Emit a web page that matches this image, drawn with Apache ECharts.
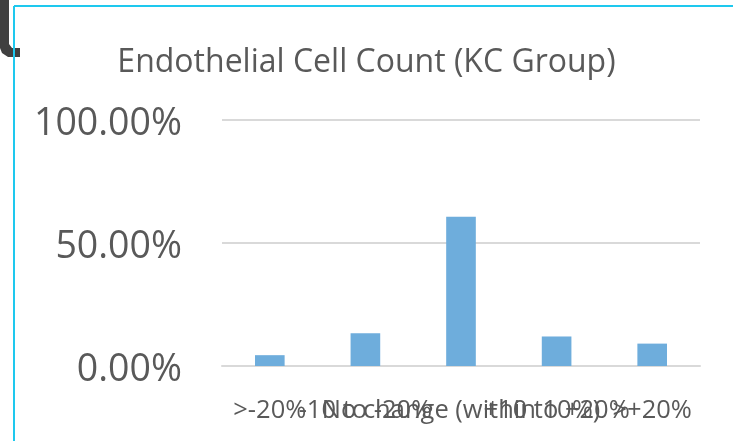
<!DOCTYPE html>
<html>
<head>
<meta charset="utf-8">
<script src="https://cdn.jsdelivr.net/npm/echarts@6/dist/echarts.min.js"></script>
<style>
  html, body { margin: 0; padding: 0; background: #fff; }
  #main { width: 733px; height: 441px; }
</style>
</head>
<body>
<div id="main"></div>
<script>
var categories = ['>-20%', '-10 to -20%', 'No change (within 10%)', '+10 to +20%', '>+20%'];
var percentages = [0.044, 0.133, 0.607, 0.120, 0.091];
var yTicks = [0, 0.5, 1];

var myChart = echarts.init(document.getElementById('main'));
option = {
    title: {
        text: 'Endothelial Cell Count (KC Group)',
        left: 'center',
        top: 42,
        textStyle: {
            fontFamily: 'Open Sans',
            fontWeight: 'normal',
            fontSize: 32,
            color: '#595959'
        }
    },
    grid: {
        left: 222,
        right: 33,
        top: 120,
        bottom: 75
    },
    xAxis: [
        {
            type: 'category',
            data: categories,
            axisLine: { lineStyle: { color: '#d9d9d9', width: 2 } },
            axisTick: { show: false },
            axisLabel: {
                interval: 0,
                hideOverlap: false,
                margin: 32,
                fontFamily: 'Open Sans',
                fontSize: 25.5,
                color: '#595959'
            }
        }
    ],
    yAxis: [
        {
            type: 'value',
            min: yTicks[0],
            max: yTicks[yTicks.length - 1],
            interval: yTicks[1] - yTicks[0],
            axisLine: { show: false },
            axisTick: { show: false },
            splitLine: { lineStyle: { color: '#d9d9d9', width: 2 } },
            axisLabel: {
                margin: 40,
                verticalAlign: 'top',
                lineHeight: 8,
                fontFamily: 'Open Sans',
                fontSize: 37.5,
                color: '#595959',
                formatter: function (v) { return (v * 100).toFixed(2) + '%'; }
            }
        }
    ],
    series: [
        {
            name: 'KC Group',
            type: 'bar',
            barWidth: '31%',
            itemStyle: { color: '#6eaddc' },
            data: percentages
        }
    ],
    graphic: [
        // frame edge that sits over the chart
        { type: 'line', shape: { x1: 14, y1: 6, x2: 733, y2: 6 }, style: { stroke: '#1ec8ee', lineWidth: 2 }, z: 100 },
        { type: 'line', shape: { x1: 14, y1: 6, x2: 14, y2: 441 }, style: { stroke: '#1ec8ee', lineWidth: 2 }, z: 100 },
        // bit of a glyph cut off at the corner
        { type: 'polygon', shape: { points: [[0, 0], [9, 0], [9, 44], [12, 48], [20, 48], [20, 57], [8, 57], [2, 53], [0, 48]] }, style: { fill: '#404040' }, z: 99 }
    ]
};

myChart.setOption(option);
</script>
</body>
</html>
